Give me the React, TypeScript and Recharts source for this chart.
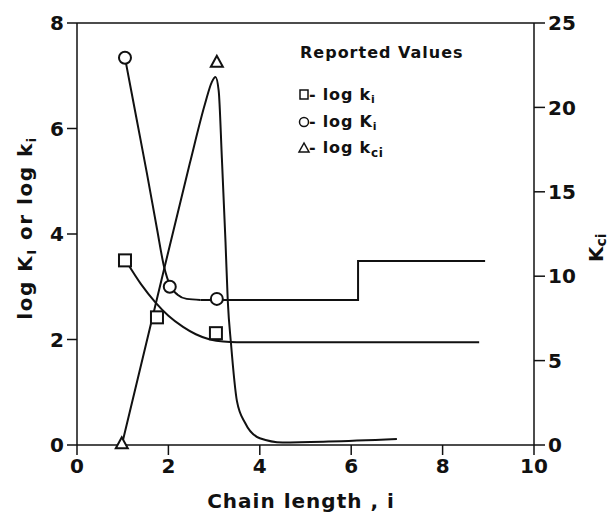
import React from "react";
import {
  ComposedChart,
  Line,
  Scatter,
  XAxis,
  YAxis,
  ReferenceLine,
} from "recharts";

// [chain length, value]
const squareCurve: [number, number][] = [
  [1.1, 3.45], [1.4, 3.05], [1.71, 2.71], [2.0, 2.45], [2.32, 2.24],
  [2.6, 2.1], [2.91, 2.0], [3.2, 1.96], [3.5, 1.95], [8.8, 1.95],
];
const circleCurve: [number, number][] = [
  [1.07, 7.25], [1.3, 6.2], [1.53, 5.15], [1.75, 4.1], [1.9, 3.4],
  [2.05, 3.0], [2.2, 2.85], [2.4, 2.77], [2.7, 2.75],
];
const circleSteps: [number, number][] = [
  [2.7, 2.75], [6.15, 2.75], [6.15, 3.49], [8.93, 3.49],
];
const triangleCurve: [number, number][] = [
  [0.98, 0], [1.7, 8.1], [2.47, 16.7], [2.8, 20.2], [2.95, 21.5], [3.03, 21.8],
  [3.1, 21.0], [3.17, 17], [3.25, 12], [3.3, 8.5], [3.37, 6], [3.5, 2.6],
  [3.68, 1.3], [4.0, 0.4], [4.5, 0.15], [5.5, 0.2], [7.0, 0.35],
];
const squarePoints: [number, number][] = [[1.05, 3.5], [1.75, 2.42], [3.04, 2.12]];
const circlePoints: [number, number][] = [[1.05, 7.34], [2.03, 3.0], [3.06, 2.77]];
const trianglePoints: [number, number][] = [[0.98, 0.1], [3.06, 22.7]];

const xTicks = [0, 2, 4, 6, 8, 10];
const leftTicks = [0, 2, 4, 6, 8];
const rightTicks = [0, 5, 10, 15, 20, 25];

const toRows = (pts: [number, number][]) => pts.map(([x, y]) => ({ x, y }));

const INK = "#111";
const FONT = "'DejaVu Sans', sans-serif";
const tickStyle = { fill: INK, fontSize: 20, fontWeight: 700, fontFamily: FONT };

const SquareMark = (p: any) => (
  <rect x={p.cx - 6} y={p.cy - 6} width={12} height={12} fill="#fff" stroke={INK} strokeWidth={2} />
);
const CircleMark = (p: any) => (
  <circle cx={p.cx} cy={p.cy} r={6} fill="#fff" stroke={INK} strokeWidth={2} />
);
const TriangleMark = (p: any) => (
  <polygon
    points={`${p.cx},${p.cy - 6} ${p.cx - 6},${p.cy + 5} ${p.cx + 6},${p.cy + 5}`}
    fill="#fff"
    stroke={INK}
    strokeWidth={2}
  />
);

function Overlay() {
  const t = { fill: INK, fontFamily: FONT, fontWeight: 700 } as const;
  return (
    <svg width={613} height={512} style={{ position: "absolute", left: 0, top: 0, pointerEvents: "none" }}>
      <text x={300} y={58} fontSize={16} letterSpacing={1} {...t}>Reported Values</text>

      <rect x={300} y={90} width={8} height={9} fill="none" stroke={INK} strokeWidth={1.5} />
      <text x={309} y={100} fontSize={16} letterSpacing={0.8} {...t}>
        - log k<tspan fontSize={11} dy={3}>i</tspan>
      </text>

      <circle cx={304} cy={122} r={4.5} fill="none" stroke={INK} strokeWidth={1.5} />
      <text x={309} y={127} fontSize={16} letterSpacing={0.8} {...t}>
        - log K<tspan fontSize={11} dy={3}>i</tspan>
      </text>

      <polygon points="304,143 299,152 309,152" fill="none" stroke={INK} strokeWidth={1.5} />
      <text x={309} y={153} fontSize={16} letterSpacing={0.8} {...t}>
        - log k<tspan fontSize={12} dy={4}>ci</tspan>
      </text>

      <text x={301} y={508} fontSize={20} textAnchor="middle" letterSpacing={1} {...t}>
        Chain length , i
      </text>

      <text transform="translate(32 228) rotate(-90)" fontSize={20} textAnchor="middle" letterSpacing={1.5} {...t}>
        log K<tspan fontSize={13} dy={4}>I</tspan>
        <tspan dy={-4}> or log k</tspan>
        <tspan fontSize={13} dy={4}>i</tspan>
      </text>

      <text transform="translate(603 262) rotate(-90)" fontSize={20} {...t}>
        K<tspan fontSize={14} dy={3}>ci</tspan>
      </text>
    </svg>
  );
}

export default function App() {
  return (
    <div style={{ position: "absolute", left: 0, top: 0, width: 613, height: 512, background: "#fff" }}>
      <ComposedChart
        width={613}
        height={512}
        margin={{ top: 23, right: 19, bottom: 27, left: 17 }}
      >
        <XAxis
          type="number"
          dataKey="x"
          domain={[0, 10]}
          ticks={xTicks}
          tick={tickStyle}
          tickSize={10}
          tickMargin={4}
          stroke={INK}
          strokeWidth={1.5}
          height={40}
          allowDataOverflow
        />
        <YAxis
          yAxisId="left"
          type="number"
          dataKey="y"
          domain={[0, 8]}
          ticks={leftTicks}
          tick={tickStyle}
          tickSize={10}
          tickMargin={3}
          stroke={INK}
          strokeWidth={1.5}
          width={60}
        />
        <YAxis
          yAxisId="right"
          orientation="right"
          type="number"
          dataKey="y"
          domain={[0, 25]}
          ticks={rightTicks}
          tick={{ ...tickStyle, textAnchor: "start" }}
          tickSize={11}
          tickMargin={3}
          stroke={INK}
          strokeWidth={1.5}
          width={60}
        />
        <ReferenceLine yAxisId="left" y={8} stroke={INK} strokeWidth={1.5} />

        <Line yAxisId="left" data={toRows(squareCurve)} dataKey="y" type="monotone" stroke={INK} strokeWidth={2} dot={false} activeDot={false} isAnimationActive={false} />
        <Line yAxisId="left" data={toRows(circleCurve)} dataKey="y" type="monotone" stroke={INK} strokeWidth={2} dot={false} activeDot={false} isAnimationActive={false} />
        <Line yAxisId="left" data={toRows(circleSteps)} dataKey="y" type="linear" stroke={INK} strokeWidth={2} dot={false} activeDot={false} isAnimationActive={false} />
        <Line yAxisId="right" data={toRows(triangleCurve)} dataKey="y" type="monotone" stroke={INK} strokeWidth={2} dot={false} activeDot={false} isAnimationActive={false} />

        <Scatter yAxisId="left" data={toRows(squarePoints)} dataKey="y" shape={SquareMark} isAnimationActive={false} />
        <Scatter yAxisId="left" data={toRows(circlePoints)} dataKey="y" shape={CircleMark} isAnimationActive={false} />
        <Scatter yAxisId="right" data={toRows(trianglePoints)} dataKey="y" shape={TriangleMark} isAnimationActive={false} />
      </ComposedChart>
      <Overlay />
    </div>
  );
}
